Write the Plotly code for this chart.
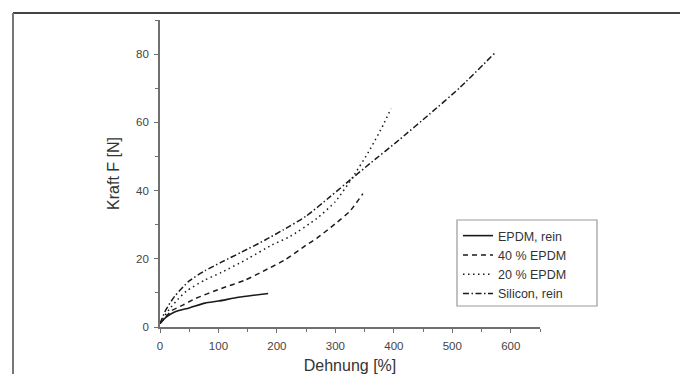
import plotly.graph_objects as go

# Data
epdm_x = [0, 10, 25, 50, 77, 100, 134, 160, 185]
epdm_y = [1, 2.8, 4.4, 5.6, 7.0, 7.6, 8.7, 9.3, 9.8]

e40_x = [0, 10, 20, 40, 60, 105, 145, 185, 214, 250, 268, 300, 325, 347]
e40_y = [1, 3, 4.8, 6.5, 8.3, 11.3, 13.7, 17.1, 19.7, 24.0, 26.0, 30.3, 34.0, 39.1]

e20_x = [0, 15, 30, 45, 77, 105, 150, 191, 222, 268, 300, 330, 359, 382, 395]
e20_y = [1, 5, 8, 10.5, 13.8, 16, 20, 24, 26.5, 31.8, 36.8, 44, 52, 59.3, 64]

sil_x = [0, 10, 25, 50, 77, 105, 140, 180, 211, 250, 291, 330, 359, 410, 461, 513, 572]
sil_y = [1, 5, 9, 13.5, 16.5, 19, 22, 25.5, 28.5, 32.5, 38.2, 43.8, 47.9, 55.0, 62.4, 70.2, 80.2]

names = ["EPDM, rein", "40 % EPDM", "20 % EPDM", "Silicon, rein"]
x_ticks = [0, 100, 200, 300, 400, 500, 600]
y_ticks = [0, 20, 40, 60, 80]

series = [(epdm_x, epdm_y, "solid", 1.6),
          (e40_x, e40_y, "5px,4px", 1.5),
          (e20_x, e20_y, "1.5px,3.5px", 1.5),
          (sil_x, sil_y, "6px,2.5px,1.5px,2.5px", 1.5)]

fig = go.Figure()
for (xs, ys, dash, w), nm in zip(series, names):
    fig.add_trace(go.Scatter(x=xs, y=ys, mode="lines", name=nm,
                             line=dict(color="#1a1a1a", width=w, dash=dash, shape="spline", smoothing=0.6)))

L, R, T, B = 160, 140, 20, 47
W, H = 680, 374
pw = W - L - R
ph = H - T - B


def px(xp):
    return (xp - L) / pw


def py(yp):
    return (H - B - yp) / ph


axis_common = dict(showgrid=False, zeroline=False, showline=True, linecolor="#707070",
                   linewidth=1.8, ticks="outside", ticklen=4, tickwidth=1.2, tickcolor="#707070",
                   tickfont=dict(family="Liberation Sans, Arial", size=11.5, color="#444"),
                   ticklabelstandoff=3, automargin=False)

fig.update_layout(
    width=W, height=H, margin=dict(l=L, r=R, t=T, b=B, autoexpand=False),
    paper_bgcolor="white", plot_bgcolor="white",
    font=dict(family="Liberation Sans, Arial", color="#333"),
    showlegend=True,
    legend=dict(x=px(458), y=py(221), xanchor="left", yanchor="top",
                bgcolor="rgba(0,0,0,0)", borderwidth=0,
                font=dict(family="Liberation Sans, Arial", size=12.5, color="#333"),
                tracegroupgap=0, itemwidth=30),
    xaxis=dict(range=[0, 650], tickvals=x_ticks, ticktext=[str(v) for v in x_ticks],
               minor=dict(dtick=50, tick0=0, ticks="outside", ticklen=3, tickcolor="#707070", showgrid=False),
               title=dict(text="Dehnung [%]", font=dict(size=16, color="#333"), standoff=12),
               **axis_common),
    yaxis=dict(range=[0, 90], tickvals=y_ticks, ticktext=[str(v) for v in y_ticks],
               minor=dict(dtick=10, tick0=0, ticks="outside", ticklen=3, tickcolor="#707070", showgrid=False),
               title=dict(text="Kraft F [N]", font=dict(size=16, color="#333"), standoff=12),
               **axis_common),
)

# legend frame
fig.add_shape(type="rect", xref="paper", yref="paper", x0=px(457), x1=px(597),
              y0=py(306), y1=py(220), line=dict(color="#999", width=1.2), layer="below")

# outer frame (top and left lines of the figure border)
fig.add_shape(type="line", xref="paper", yref="paper", x0=px(13), x1=px(W + 2),
              y0=py(13), y1=py(13), line=dict(color="#444", width=2))
fig.add_shape(type="line", xref="paper", yref="paper", x0=px(13), x1=px(13),
              y0=py(13), y1=py(H + 2), line=dict(color="#777", width=2))

fig.write_html("out.html", config={"displayModeBar": False},
               post_script="document.body.style.margin='0';")
